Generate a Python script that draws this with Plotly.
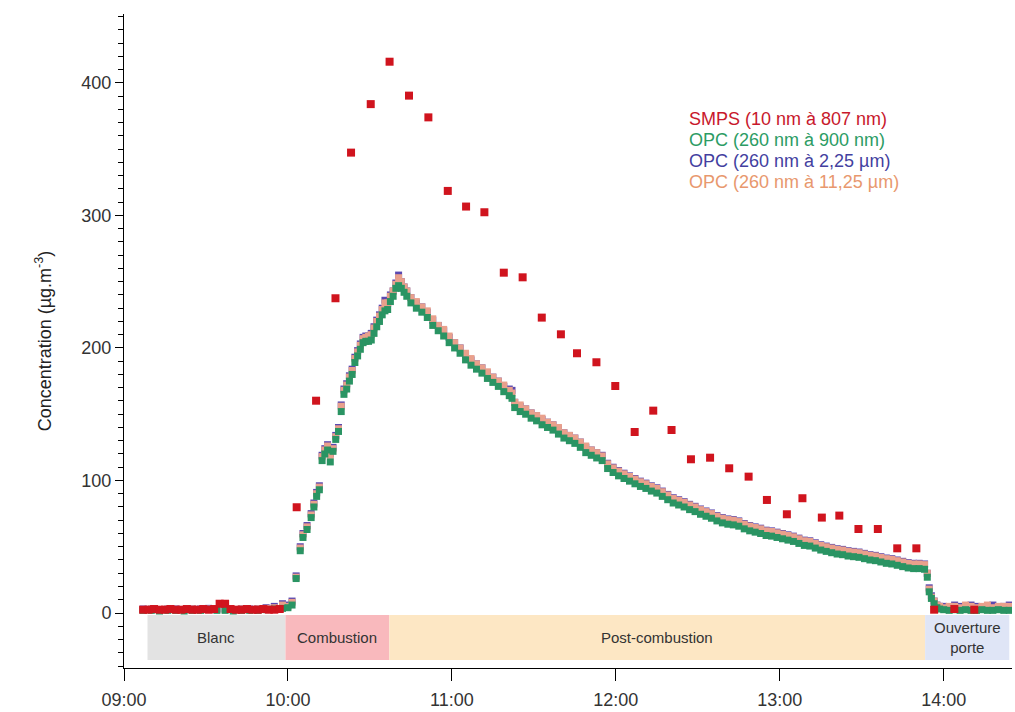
import pandas as pd
import plotly.graph_objects as go

# ---------------- data (minutes after 09:00) ----------------
SMPS_MIN = [7, 9, 11, 13, 15, 17, 19, 21, 23, 25, 27, 29, 31, 33, 35, 37, 39, 41, 43, 45, 47, 49, 51, 53, 55, 57,
            63.2, 70.3, 77.4, 83.1, 90.3, 97.2, 104.3, 111.4, 118.5, 125.2, 131.9, 139.0, 145.9, 152.9, 159.9,
            165.8, 172.9, 179.8, 186.9, 193.7, 200.4, 207.5, 214.5, 221.5, 228.6, 235.3, 242.6, 248.3, 255.4,
            261.8, 268.8, 275.9, 283.0, 290.0, 296.5, 303.9, 311.2]
SMPS_VAL = [2.5, 2.5, 3, 2.5, 2.5, 3, 2.5, 2.5, 3, 2.5, 2.5, 3, 2.5, 3, 7, 7, 3, 2.5, 2.5, 3, 2.5, 2.5, 3, 2.5, 2.5, 3,
            79.8, 160.2, 237.5, 347.4, 384, 416, 390.4, 374, 318.5, 306.7, 302.4, 256.8, 253.3, 222.9, 210.3,
            196, 189.2, 171.3, 136.6, 152.7, 138.1, 116, 117.2, 109.2, 102.9, 85.3, 74.5, 86.6, 72,
            73.5, 63.4, 63.4, 48.8, 48.8, 2.5, 3, 2.5]

OPC_MIN = [7, 10, 13, 16, 19, 22, 25, 28, 31, 34, 37, 40, 43, 46, 49, 52, 55, 58,
           60, 61.5, 63, 64.5, 65.5, 67, 68.5, 69.5, 70.5, 71.5, 72.5, 73.5, 74.5, 75.5, 76.5, 77.5, 78.5, 79.5,
           80.5, 81.5, 82.5, 83.5, 84.5, 85.5, 86.5, 87.5, 88.5, 89.5, 90.5, 91.5, 92.5, 93.5, 94.5, 95.5, 96.5,
           97.5, 98.5, 99.5, 100.5, 101.5, 102.5, 103.5,
           105, 107, 109, 111, 113, 115, 117, 119, 121, 123, 125, 127, 129, 131, 133, 135, 137, 139, 141,
           142, 143,
           145, 147, 149, 151, 153, 155, 157, 159, 161, 163, 165, 167, 169, 171, 173,
           175, 177, 179, 181, 183, 185, 187, 189, 191, 193, 195, 197, 199, 201, 203, 205, 207, 209, 211, 213,
           215, 217, 219, 221, 223, 225, 227, 229, 231, 233, 235, 237, 239, 241, 243, 245, 247, 249, 251, 253,
           255, 257, 259, 261, 263, 265, 267, 269, 271, 273, 275, 277, 279, 281, 283, 285, 287, 289, 291, 293,
           294, 294.7, 295.5, 296.5, 297.5, 298.5,
           300, 302, 304, 306, 308, 310, 312, 314, 316, 318, 320, 322, 324]

OPC_900NM = [2, 2, 1.5, 2, 2, 1.5, 2, 2, 2.5, 2, 2, 1.5, 2, 2, 2, 2.5, 3, 3.5,
             4, 6, 26, 47, 57, 63, 72, 80, 88, 93, 115, 120, 123, 114, 122, 131, 137, 152, 165, 169,
             175, 180, 189, 194, 199, 204, 205, 205, 206, 211, 216, 220, 225, 228, 229, 235, 239, 245,
             247, 245, 242, 239,
             234, 230, 227, 223, 217, 213, 209, 204, 200, 196, 191, 187, 184, 181, 177, 174, 171, 167, 164,
             162, 155,
             152, 150, 147, 145, 142, 140, 138, 135, 132, 130, 128, 125, 121, 119, 117,
             115, 109, 106, 103.5, 101.5, 99.5, 97.5, 95.5, 94, 92, 90.5, 88, 85.5, 83, 81.5, 80, 78, 76.5,
             74.5, 73, 71.5, 69.5, 68, 67, 66.5, 65.5, 63.5, 62, 61, 60, 58.5, 58, 57, 56, 55, 54, 52.5, 51,
             50.5, 49, 47.5, 46.5, 45.5, 44.5, 44, 43, 42.5, 42, 41, 40, 39.5, 38.5, 37.5, 37, 36, 35, 34,
             33.5, 33.5, 33,
             27, 16, 11, 7, 4, 3,
             2.5, 2, 2.5, 2, 2.5, 2, 2, 2.5, 2, 2, 2.5, 2, 2]

OPC_2_25UM = [3, 3, 2.5, 3, 3, 2.5, 3, 3, 3.5, 3, 3, 2.5, 3, 3, 3, 4, 5, 7,
              6, 9, 28, 50, 60, 66, 75, 83, 91, 96, 119, 124, 127, 120, 125, 134, 140, 157, 169, 173,
              179, 184, 193, 198, 203, 208, 209, 209, 211, 216, 221, 225, 230, 236, 234, 240, 243, 249,
              255, 250, 246, 243,
              238, 234, 231, 227, 221, 217, 213, 208, 204, 200, 195, 191, 188, 185, 181, 178, 175, 171, 169,
              168, 159,
              156, 154, 151, 149, 146, 144, 142, 139, 136, 134, 132, 129, 125, 123, 121,
              119, 113, 110, 107.5, 105.5, 103.5, 101.5, 99.5, 98, 96, 94.5, 92, 89.5, 87, 85.5, 84, 82, 80.5,
              78.5, 77, 75.5, 73.5, 72, 71, 70.5, 69.5, 67.5, 66, 65, 64, 62.5, 62, 61, 60, 59, 58, 56.5, 55,
              54.5, 53, 51.5, 50.5, 49.5, 48.5, 48, 47, 46.5, 46, 45, 44, 43.5, 42.5, 41.5, 41, 40, 39, 38,
              37.5, 37.5, 37,
              30, 19, 13, 9, 6, 5,
              5, 4, 6, 5, 4, 6, 5, 4, 5, 6, 4, 5, 6]

OPC_11_25UM = [2.5, 3, 2, 3, 2.5, 2.5, 3, 2.5, 3, 3, 2.5, 2.5, 3, 2.5, 3, 3.5, 4, 6,
               5, 8, 27, 49, 59, 65, 74, 82, 90, 95, 118, 123, 126, 119, 124, 133, 139, 156, 168, 172,
               178, 183, 192, 197, 202, 207, 208, 209, 210, 215, 220, 224, 229, 234, 234, 239, 243, 248,
               253, 250, 246, 243,
               238, 235, 231, 228, 222, 217, 214, 209, 204, 200, 196, 192, 188, 185, 182, 178, 175, 172, 168,
               166, 159,
               157, 154, 151, 149, 147, 144, 142, 140, 136, 134, 132, 129, 126, 123, 121,
               118.5, 112.5, 109.5, 107, 105, 103, 101, 99, 97.5, 95.5, 94, 91.5, 89, 86.5, 85, 83.5, 81.5, 80,
               78, 76.5, 75, 73, 71.5, 70.5, 70, 69, 67, 65.5, 64.5, 63.5, 62, 61.5, 60.5, 59.5, 58.5, 57.5, 56,
               54.5, 54, 52.5, 51, 50, 49, 48, 47.5, 46.5, 46, 45.5, 44.5, 43.5, 43, 42, 41, 40.5, 39.5, 38.5,
               37.5, 37, 37, 36.5,
               30, 18, 12, 9, 6, 5,
               4, 5, 5, 4, 6, 5, 4, 5, 6, 4, 5, 5, 5]

# phases: label, start minute, end minute
PHASE_LABELS = ["Blanc", "Combustion", "Post-combustion", "Ouverture<br>porte"]
PHASE_START = [8.6, 59.1, 97.1, 293.2]
PHASE_END = [59.1, 97.1, 293.2, 324]
PHASE_COLORS = ["#e3e3e3", "#f9b9bd", "#fde7c4", "#dfe5f6"]

LEGEND_TEXT = ["SMPS (10 nm à 807 nm)", "OPC (260 nm à 900 nm)", "OPC (260 nm à 2,25 µm)", "OPC (260 nm à 11,25 µm)"]
LEGEND_COLORS = ["#c8182c", "#2c9c64", "#433fa0", "#e8986e"]

Y_TICKS = [0, 100, 200, 300, 400]

# ---------------- helpers ----------------
BASE = pd.Timestamp("2000-01-01 09:00")


def to_time(mins):
    return [BASE + pd.Timedelta(minutes=m) for m in mins]


opc_x = to_time(OPC_MIN)
smps_x = to_time(SMPS_MIN)

FONT = "Arial, Liberation Sans, sans-serif"

fig = go.Figure()

fig.add_trace(go.Scatter(x=opc_x, y=OPC_2_25UM, mode="markers",
                         marker=dict(symbol="square", size=7, color="#5a48b0", line=dict(width=0))))
fig.add_trace(go.Scatter(x=opc_x, y=OPC_11_25UM, mode="markers",
                         marker=dict(symbol="square", size=7, color="#e9a08c", line=dict(width=0))))
fig.add_trace(go.Scatter(x=opc_x, y=OPC_900NM, mode="markers",
                         marker=dict(symbol="square", size=7, color="#2a9463", line=dict(width=0))))
fig.add_trace(go.Scatter(x=smps_x, y=SMPS_VAL, mode="markers",
                         marker=dict(symbol="square", size=8, color="#d0141e", line=dict(width=0))))

shapes = []
annotations = []
for lab, s, e, c in zip(PHASE_LABELS, PHASE_START, PHASE_END, PHASE_COLORS):
    x0 = BASE + pd.Timedelta(minutes=s)
    x1 = BASE + pd.Timedelta(minutes=e)
    shapes.append(dict(type="rect", xref="x", yref="y", x0=x0, x1=x1, y0=-1.5, y1=-35.5,
                       fillcolor=c, line=dict(width=0), layer="below"))
    annotations.append(dict(x=x0 + (x1 - x0) / 2, y=-18.5, xref="x", yref="y", text=lab,
                            showarrow=False, font=dict(family=FONT, size=15, color="#333333")))

leg_y = [0.8387, 0.8073, 0.7752, 0.7431]
for t, c, yy in zip(LEGEND_TEXT, LEGEND_COLORS, leg_y):
    annotations.append(dict(x=0.6337, y=yy, xref="paper", yref="paper", xanchor="left", yanchor="middle",
                            text=t, showarrow=False, font=dict(family=FONT, size=18, color=c)))

annotations.append(dict(x=-0.106, y=0.5, xref="paper", yref="paper", textangle=-90,
                        text="Concentration (µg.m<sup>-3</sup>)", showarrow=False,
                        font=dict(family=FONT, size=18, color="#222222")))

fig.update_layout(
    width=1015, height=712,
    margin=dict(l=124, r=3, t=14, b=44),
    paper_bgcolor="white", plot_bgcolor="white",
    showlegend=False,
    shapes=shapes, annotations=annotations,
    font=dict(family=FONT, size=18, color="#333333"),
    xaxis=dict(type="date", range=[BASE, BASE + pd.Timedelta(minutes=325)],
               tickformat="%H:%M", dtick=3600000, tick0=BASE,
               ticks="outside", ticklen=12, tickcolor="black", showline=True, linecolor="black",
               linewidth=1, showgrid=False, zeroline=False, ticklabelstandoff=3,
               tickfont=dict(size=18, color="#333333")),
    yaxis=dict(range=[-41.5, 452], tickvals=Y_TICKS, ticks="outside", ticklen=8, tickcolor="black",
               showline=True, linecolor="black", linewidth=1, showgrid=False, zeroline=False,
               tickfont=dict(size=18, color="#333333"),
               minor=dict(dtick=10, tick0=0, ticks="outside", ticklen=5, tickcolor="black", showgrid=False)),
)

fig.write_html("out.html")
